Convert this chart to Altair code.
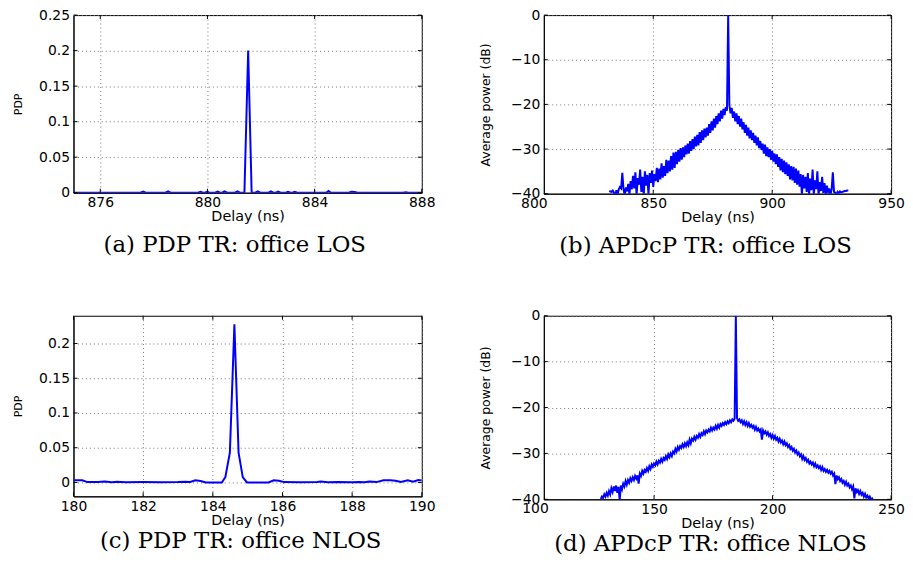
import altair as alt
import numpy as np
import pandas as pd

# ---------------- (a) PDP TR: office LOS ----------------
a_delay = [875.0, 877.5, 877.6, 877.7, 878.44, 878.53, 878.62, 879.65, 879.74, 879.84,
           879.9, 879.99, 880.08, 880.29, 880.38, 880.47, 880.55, 880.64, 880.73, 881.03,
           881.12, 881.21, 881.38, 881.52, 881.65, 881.79, 881.88, 881.97, 882.28, 882.37,
           882.46, 882.55, 882.64, 882.73, 882.92, 883.01, 883.1, 883.17, 883.26, 883.35,
           884.43, 884.52, 884.61, 885.28, 885.37, 885.5, 885.6, 887.3, 887.4, 887.5, 888.0]
a_pdp = [0, 0, 0.0015, 0, 0, 0.002, 0, 0, 0.0012, 0,
         0, 0.0012, 0, 0, 0.0015, 0, 0, 0.002, 0, 0,
         0.002, 0, 0, 0.2, 0, 0, 0.002, 0, 0, 0.0018,
         0, 0, 0.0015, 0, 0, 0.0012, 0, 0, 0.0012, 0,
         0, 0.0025, 0, 0, 0.0015, 0.001, 0, 0, 0.0005, 0, 0]

# ---------------- (c) PDP TR: office NLOS ----------------
c_delay = [180.0, 180.25, 180.4, 180.7, 180.9, 181.1, 181.25, 181.5, 182.0, 182.5,
           183.0, 183.2, 183.35, 183.5, 183.65, 183.8, 184.26, 184.36, 184.49, 184.62,
           184.74, 184.86, 184.98, 185.6, 185.75, 185.9, 186.05, 186.5, 187.0, 187.1,
           187.3, 187.6, 188.0, 188.2, 188.35, 188.5, 188.7, 188.9, 189.1, 189.25,
           189.4, 189.6, 189.75, 189.9, 190.0]
c_pdp = [0.003, 0.003, 0.0005, 0.0005, 0.0012, 0.0004, 0.001, 0.0003, 0.0005, 0.0003,
         0.0006, 0.001, 0.0008, 0.003, 0.002, 0.0, 0.0, 0.0076, 0.043, 0.2276,
         0.043, 0.0076, 0.0, 0.0, 0.003, 0.0025, 0.0005, 0.0003, 0.0005, 0.0012,
         0.0004, 0.0006, 0.0003, 0.0008, 0.0004, 0.0012, 0.0005, 0.003, 0.003, 0.0025,
         0.0008, 0.003, 0.0012, 0.0035, 0.003]

# ---------------- (b) APDcP TR: office LOS (dB, 0.5 ns samples from 831.5 ns) ----------------
b_start, b_step = 831.5, 0.5
b_db = [
    -39.4, -39.5, -39.6, -39.3, -39.8, -40.5, -39.2, -40.3, -39.0, -38.5,
    -38.8, -35.3, -39.0, -40.4, -38.6, -39.5, -37.8, -40.2, -37.2, -39.0,
    -36.0, -38.8, -35.2, -40.3, -36.5, -38.0, -34.6, -39.6, -36.2, -40.4,
    -35.0, -38.2, -35.8, -40.2, -35.4, -37.6, -34.8, -38.5, -35.6, -37.2,
    -34.2, -37.4, -34.4, -36.8, -33.2, -36.4, -33.8, -36.0, -32.4, -35.4,
    -32.6, -35.0, -31.6, -34.6, -30.8, -34.2, -30.6, -33.4, -30.2, -32.8,
    -29.8, -32.4, -29.6, -31.8, -29.2, -31.2, -28.8, -31.0, -28.2, -30.4,
    -27.8, -30.0, -27.2, -29.4, -26.8, -29.2, -26.2, -28.6, -25.8, -28.0,
    -25.4, -27.4, -25.2, -27.0, -24.4, -26.4, -23.8, -25.8, -23.2, -25.2,
    -22.6, -24.4, -22.0, -23.8, -21.4, -23.2, -21.0, -22.4, -20.6, -21.4,
    0.0, -20.2, -22.0, -20.8, -23.0, -21.6, -23.8, -22.0, -24.4, -22.6,
    -25.0, -23.2, -25.6, -24.0, -26.4, -24.6, -27.0, -25.2, -27.6, -25.8,
    -28.0, -26.4, -28.6, -27.0, -29.2, -27.4, -29.8, -28.2, -30.2, -28.8,
    -31.0, -29.0, -31.6, -29.6, -31.8, -30.0, -32.4, -30.4, -32.8, -31.0,
    -33.4, -31.2, -34.0, -31.8, -34.8, -32.2, -35.2, -32.6, -35.6, -33.0,
    -36.0, -33.4, -36.8, -33.8, -37.0, -34.0, -37.6, -34.4, -38.0, -34.8,
    -38.4, -35.6, -40.3, -35.8, -38.8, -36.2, -39.6, -35.4, -40.4, -36.6,
    -39.2, -34.6, -40.2, -37.0, -39.0, -35.0, -40.4, -37.4, -39.4, -36.2,
    -39.8, -37.6, -40.2, -38.2, -39.6, -38.8, -40.3, -39.0, -35.2, -39.6,
    -39.8, -40.2, -39.6, -39.9, -39.5, -39.7, -39.6, -39.5, -39.4, -39.4,
    -39.3, -39.3]

# ---------------- (d) APDcP TR: office NLOS (dB, 0.5 ns samples from 127.5 ns) ----------------
d_start, d_step = 127.5, 0.5
d_db = [
    -39.9, -39.4, -39.7, -38.9, -39.4, -38.6, -39.2, -38.2, -38.9, -37.6,
    -38.4, -37.2, -38.2, -37.0, -38.6, -37.3, -40.2, -37.0, -37.8, -36.6,
    -37.2, -36.0, -36.8, -35.8, -36.4, -35.4, -36.0, -35.2, -35.8, -34.9,
    -35.5, -34.8, -36.6, -34.4, -34.9, -33.8, -34.4, -33.6, -34.0, -33.2,
    -33.8, -32.8, -33.4, -32.4, -32.9, -32.2, -32.6, -31.8, -32.4, -31.6,
    -32.0, -31.2, -31.8, -31.0, -31.4, -30.6, -31.2, -30.2, -30.8, -30.0,
    -30.6, -29.6, -30.0, -29.0, -29.6, -28.6, -29.2, -28.4, -28.8, -28.0,
    -28.6, -27.8, -28.4, -27.6, -28.2, -27.0, -27.8, -26.8, -27.2, -26.4,
    -27.0, -26.2, -26.6, -25.8, -26.4, -25.6, -26.0, -25.2, -25.8, -25.0,
    -25.4, -24.8, -25.2, -24.4, -25.0, -24.4, -24.8, -24.0, -24.6, -23.8,
    -24.4, -23.6, -24.0, -23.4, -23.8, -23.2, -23.6, -23.0, -23.4, -22.8,
    -23.2, -22.6, -22.9, -22.4, 0.0, -22.3, -22.9, -22.6, -23.2, -22.8,
    -23.6, -23.0, -23.8, -23.2, -24.0, -23.4, -24.2, -23.8, -24.4, -24.0,
    -24.8, -24.2, -25.0, -24.6, -25.2, -24.8, -27.0, -25.0, -25.6, -25.2,
    -25.9, -25.4, -26.2, -25.8, -26.6, -26.0, -26.8, -26.2, -27.0, -26.6,
    -27.4, -26.8, -27.6, -27.2, -28.0, -27.4, -28.2, -27.8, -28.6, -28.2,
    -29.0, -28.6, -29.4, -29.0, -29.8, -29.4, -30.2, -29.8, -30.6, -30.2,
    -31.2, -30.6, -31.4, -31.0, -31.8, -31.4, -32.2, -31.8, -32.4, -32.0,
    -32.8, -32.2, -33.0, -32.6, -33.2, -32.8, -33.6, -33.0, -33.8, -33.4,
    -34.0, -33.6, -34.2, -33.8, -34.4, -34.0, -34.8, -34.4, -36.7, -34.8,
    -35.6, -35.2, -36.0, -35.6, -36.4, -36.0, -36.8, -36.2, -37.0, -36.6,
    -37.4, -37.0, -37.8, -37.2, -39.8, -37.6, -38.4, -38.0, -38.8, -38.2,
    -39.0, -38.6, -39.4, -38.8, -39.6, -39.2, -39.8, -39.4, -40.0, -39.8,
    -40.3]

pdp_ticks = [0, 0.05, 0.1, 0.15, 0.2, 0.25]
pdp_ticks_c = [0, 0.05, 0.1, 0.15, 0.2]
db_ticks = [-40, -30, -20, -10, 0]

captions = ["(a) PDP TR: office LOS", "(b) APDcP TR: office LOS",
            "(c) PDP TR: office NLOS", "(d) APDcP TR: office NLOS"]

df_a = pd.DataFrame({"delay": a_delay, "v": a_pdp})
df_c = pd.DataFrame({"delay": c_delay, "v": c_pdp})
df_b = pd.DataFrame({"delay": np.round(b_start + b_step * np.arange(len(b_db)), 2), "v": b_db})
df_d = pd.DataFrame({"delay": np.round(d_start + d_step * np.arange(len(d_db)), 2), "v": d_db})

BLUE = "#0000ff"
SANS = "DejaVu Sans"
LAB_PAD = 3
TICK = 4


def panel(df, xdom, xticks, ydom, yticks, ytitle, ytitle_size, ytitle_pad, yfmt, w, h,
          caption, dx, offset, extra_label=None, sw=2.0):
    xenc = alt.X("delay:Q", scale=alt.Scale(domain=xdom, nice=False, zero=False),
                 axis=alt.Axis(values=xticks, title="Delay (ns)", format="d",
                               labelPadding=LAB_PAD, titlePadding=0, titleFontSize=14.5,
                               labelFlush=False))
    yenc = alt.Y("v:Q", scale=alt.Scale(domain=ydom, nice=False, zero=False),
                 axis=alt.Axis(values=yticks, title=ytitle, format=yfmt,
                               titleFontSize=ytitle_size, labelPadding=4,
                               titlePadding=ytitle_pad, labelFlush=False))
    line = alt.Chart(df).mark_line(color=BLUE, strokeWidth=sw, clip=True).encode(x=xenc, y=yenc)
    # inward tick marks on all four sides (MATLAB box style)
    xt_df = pd.DataFrame({"delay": xticks})
    yt_df = pd.DataFrame({"v": yticks})
    tk = dict(color="black", size=TICK, thickness=1, opacity=1)
    t_bottom = alt.Chart(xt_df).mark_tick(**tk).encode(x=xenc, y=alt.value(h - TICK / 2))
    t_top = alt.Chart(xt_df).mark_tick(**tk).encode(x=xenc, y=alt.value(TICK / 2))
    t_left = alt.Chart(yt_df).mark_tick(**tk).encode(y=yenc, x=alt.value(TICK / 2))
    t_right = alt.Chart(yt_df).mark_tick(**tk).encode(y=yenc, x=alt.value(w - TICK / 2))
    layers = [line, t_bottom, t_top, t_left, t_right]
    if extra_label is not None:
        lab = alt.Chart(pd.DataFrame({"delay": [extra_label], "t": [str(extra_label)]})).mark_text(
            font=SANS, fontSize=14, baseline="top", align="center", color="black"
        ).encode(x=xenc, y=alt.value(h + LAB_PAD), text="t:N")
        layers.append(lab)
    return alt.layer(*layers).properties(
        width=w, height=h,
        title=alt.TitleParams(caption, orient="bottom", anchor="middle", font="DejaVu Serif",
                              fontSize=23, fontWeight="normal", color="black",
                              offset=offset, dx=dx),
    )


pa = panel(df_a, [875, 888], [876, 880, 884, 888], [0, 0.25], pdp_ticks, "PDP", 11, 15, "~g",
           351, 179, captions[0], -13, 11)
pb = panel(df_b, [804, 950], [850, 900, 950], [-40, 0], db_ticks, "Average power (dB)", 12.5, 18, "d",
           350, 180, captions[1], -12, 11, extra_label=800, sw=2.0)
pc = panel(df_c, [180, 190], [180, 182, 184, 186, 188, 190], [-0.02, 0.24], pdp_ticks_c, "PDP", 11, 15,
           "~g", 351, 182, captions[2], -7, 4)
pd_ = panel(df_d, [103.5, 250], [150, 200, 250], [-40, 0], db_ticks, "Average power (dB)", 12.5, 18, "d",
            350, 185, captions[3], -7, 4, extra_label=100, sw=2.0)

chart = alt.vconcat(
    alt.hconcat(pa, pb, spacing=43),
    alt.hconcat(pc, pd_, spacing=43),
    spacing=50,
).properties(
    padding={"left": 4, "top": -3, "right": 0, "bottom": 0}
).configure_axis(
    labelFont=SANS, labelFontSize=14, labelColor="black",
    titleFont=SANS, titleFontSize=15, titleFontWeight="normal", titleColor="black",
    grid=True, gridColor="#777777", gridDash=[1, 3], gridWidth=1, gridOpacity=1,
    ticks=False, domain=True, domainColor="black", domainWidth=1,
).configure_view(stroke="black", strokeWidth=1)

chart.save("out.html", embed_options={"renderer": "svg", "actions": False})
